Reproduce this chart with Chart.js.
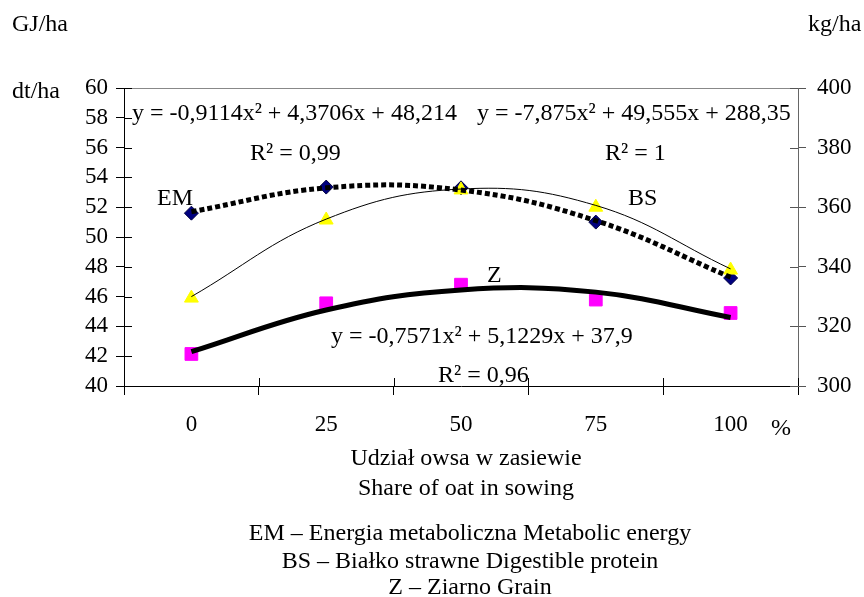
<!DOCTYPE html>
<html>
<head>
<meta charset="utf-8">
<script src="https://cdn.jsdelivr.net/npm/chart.js@4/dist/chart.umd.min.js"></script>
<style>
  body { margin: 0; background: #fff; }
  canvas { display: block; }
</style>
</head>
<body>
<canvas id="wykres" width="864" height="597"></canvas>
<script>
// Udzial owsa w zasiewie - EM, BS, Z
const udzial = ['0', '25', '50', '75', '100'];

// punkty pomiarowe
const em = [51.6, 53.35, 53.3, 51.0, 47.25];        // GJ/ha, lewa os
const bs = [329.5, 355.7, 365.8, 360.0, 338.9];     // kg/ha, prawa os
const z  = [42.15, 45.55, 46.8, 45.8, 44.9];        // dt/ha, lewa os

// linie trendu
const emTrend = [51.7, 53.3, 53.15, 51.1, 47.3];
const bsTrend = [330.0, 356.0, 366.1, 360.6, 339.3];
const zTrend  = [42.3, 45.1, 46.45, 46.3, 44.6];

const lewaMin = 40, lewaMax = 60, lewaKrok = 2;
const prawaMin = 300, prawaMax = 400, prawaKrok = 20;

const FONT = '"Liberation Serif", "Times New Roman", serif';
const ROZMIAR = 23;   // etykiety osi
const ROZMIAR_TXT = 24; // napisy

// teksty na wykresie
const napisy = [
  { t: 'GJ/ha', x: 12, y: 31 },
  { t: 'dt/ha', x: 12, y: 98 },
  { t: 'kg/ha', x: 808, y: 31 },
  { t: 'y = -0,9114x² + 4,3706x + 48,214', x: 132, y: 120 },
  { t: 'R² = 0,99', x: 250, y: 160 },
  { t: 'y = -7,875x² + 49,555x + 288,35', x: 477, y: 120 },
  { t: 'R² = 1', x: 605, y: 160 },
  { t: 'EM', x: 157, y: 205 },
  { t: 'BS', x: 628, y: 205 },
  { t: 'Z', x: 487, y: 282 },
  { t: 'y = -0,7571x² + 5,1229x + 37,9', x: 331, y: 343 },
  { t: 'R² = 0,96', x: 438, y: 382 },
  { t: '%', x: 781, y: 435, c: true },
  { t: 'Udział owsa w zasiewie', x: 466, y: 465, c: true },
  { t: 'Share of oat in sowing', x: 466, y: 495, c: true },
  { t: 'EM – Energia metaboliczna Metabolic energy', x: 470, y: 540, c: true },
  { t: 'BS – Białko strawne Digestible protein', x: 470, y: 568, c: true },
  { t: 'Z – Ziarno Grain', x: 470, y: 594, c: true }
];

const pluginTekst = {
  id: 'tekst',
  afterDraw(chart) {
    const ctx = chart.ctx;
    const { left, right, top, bottom } = chart.chartArea;
    ctx.save();
    // gorna ramka
    ctx.strokeStyle = '#888';
    ctx.lineWidth = 1;
    ctx.beginPath();
    ctx.moveTo(left, top + 0.5);
    ctx.lineTo(right, top + 0.5);
    ctx.stroke();

    // kreski osi przechodzace do srodka
    ctx.strokeStyle = '#000';
    const sy = chart.scales.y;
    sy.ticks.forEach(tk => {
      const p = Math.round(sy.getPixelForValue(tk.value)) + 0.5;
      ctx.beginPath(); ctx.moveTo(left, p); ctx.lineTo(left + 8, p); ctx.stroke();
    });
    ctx.strokeStyle = '#555';
    const sy1 = chart.scales.y1;
    sy1.ticks.forEach(tk => {
      const p = Math.round(sy1.getPixelForValue(tk.value)) + 0.5;
      ctx.beginPath(); ctx.moveTo(right, p); ctx.lineTo(right - 8, p); ctx.stroke();
    });
    ctx.strokeStyle = '#000';
    const sx = chart.scales.x;
    for (let i = 0; i <= udzial.length; i++) {
      const p = Math.round(sx.getPixelForValue(i - 0.5)) + 0.5;
      ctx.beginPath(); ctx.moveTo(p, bottom); ctx.lineTo(p, bottom - 8); ctx.stroke();
    }

    ctx.fillStyle = '#000';
    ctx.font = ROZMIAR_TXT + 'px ' + FONT;
    ctx.textBaseline = 'alphabetic';
    napisy.forEach(n => {
      ctx.textAlign = n.c ? 'center' : 'left';
      ctx.fillText(n.t, n.x, n.y);
    });
    ctx.restore();
  }
};

Chart.defaults.font.family = FONT;
Chart.defaults.font.size = ROZMIAR;
Chart.defaults.color = '#000';

new Chart(document.getElementById('wykres'), {
  type: 'line',
  data: {
    labels: udzial,
    datasets: [
      {
        label: 'EM trend', data: emTrend, yAxisID: 'y', order: 0,
        borderColor: '#000', borderWidth: 5, borderDash: [5, 3],
        tension: 0.4, pointRadius: 0, fill: false
      },
      {
        label: 'BS trend', data: bsTrend, yAxisID: 'y1', order: 0,
        borderColor: '#000', borderWidth: 1,
        tension: 0.4, pointRadius: 0, fill: false
      },
      {
        label: 'Z trend', data: zTrend, yAxisID: 'y', order: 0,
        borderColor: '#000', borderWidth: 5,
        tension: 0.4, pointRadius: 0, fill: false
      },
      {
        label: 'BS', data: bs, yAxisID: 'y1', order: 1, showLine: false,
        pointStyle: 'triangle', pointRadius: 8,
        pointBackgroundColor: '#ffff00', pointBorderColor: '#ffff00', pointBorderWidth: 1
      },
      {
        label: 'EM', data: em, yAxisID: 'y', order: 2, showLine: false,
        pointStyle: 'rectRot', pointRadius: 7,
        pointBackgroundColor: '#000080', pointBorderColor: '#000040', pointBorderWidth: 1
      },
      {
        label: 'Z', data: z, yAxisID: 'y', order: 1, showLine: false,
        pointStyle: 'rect', pointRadius: 9,
        pointBackgroundColor: '#ff00ff', pointBorderColor: '#ff00ff', pointBorderWidth: 1
      }
    ]
  },
  options: {
    responsive: false,
    animation: false,
    layout: { padding: { top: 88, left: 0, right: 0, bottom: 0 } },
    plugins: { legend: { display: false }, tooltip: { enabled: false } },
    scales: {
      x: {
        offset: true,
        grid: { offset: true, drawOnChartArea: false, tickLength: 9, color: '#000' },
        border: { display: true, color: '#000' },
        ticks: { padding: 16, maxRotation: 0 },
        afterFit(s) { s.height = 597 - 386; }
      },
      y: {
        position: 'left', min: lewaMin, max: lewaMax,
        grid: { drawOnChartArea: false, tickLength: 8, color: '#000' },
        border: { display: true, color: '#000' },
        ticks: { stepSize: lewaKrok, padding: 8, autoSkip: false },
        afterFit(s) { s.width = 124; }
      },
      y1: {
        position: 'right', min: prawaMin, max: prawaMax,
        grid: { drawOnChartArea: false, tickLength: 8, color: '#555' },
        border: { display: true, color: '#666' },
        ticks: { stepSize: prawaKrok, padding: 11, autoSkip: false },
        afterFit(s) { s.width = 66; }
      }
    }
  },
  plugins: [pluginTekst]
});
</script>
</body>
</html>
